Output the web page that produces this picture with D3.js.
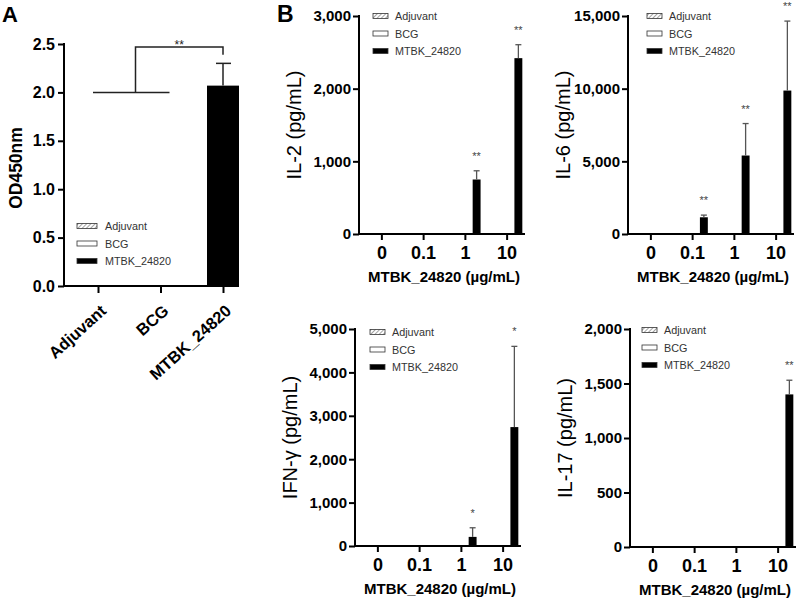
<!DOCTYPE html>
<html><head><meta charset="utf-8">
<script src="https://cdn.jsdelivr.net/npm/d3@7"></script>
<style>body{margin:0;background:#fff} text{font-family:Arial,"Liberation Sans",sans-serif}</style>
</head><body><svg id="c" width="800" height="601"></svg>
<script>
// ---------- data ----------
const seriesNames = ["Adjuvant", "BCG", "MTBK_24820"];
// Panel A
const groupsA = ["Adjuvant", "BCG", "MTBK_24820"];
const valuesA = [0, 0, 2.07];
const errorsA = [0, 0, 0.23];
const ticksA = [0, 0.5, 1.0, 1.5, 2.0, 2.5];
const bracketA = { baseline: 2.0, top: 2.47, rightEnd: 2.39, label: "**" };
// Panel B
const doses = ["0", "0.1", "1", "10"];
const il2Adjuvant = [0, 0, 0, 0];
const il2BCG = [0, 0, 0, 0];
const il2Mtbk = [0, 0, 750, 2420];
const il2Err = [0, 0, 120, 185];
const il2Sig = ["", "", "**", "**"];
const il2Ticks = [0, 1000, 2000, 3000];

const il6Adjuvant = [0, 0, 0, 0];
const il6BCG = [0, 0, 0, 0];
const il6Mtbk = [0, 1150, 5400, 9870];
const il6Err = [0, 150, 2200, 4780];
const il6Sig = ["", "**", "**", "**"];
const il6Ticks = [0, 5000, 10000, 15000];

const ifnAdjuvant = [0, 0, 0, 0];
const ifnBCG = [0, 0, 0, 0];
const ifnMtbk = [0, 0, 210, 2740];
const ifnErr = [0, 0, 210, 1860];
const ifnSig = ["", "", "*", "*"];
const ifnTicks = [0, 1000, 2000, 3000, 4000, 5000];

const il17Adjuvant = [0, 0, 0, 0];
const il17BCG = [0, 0, 0, 0];
const il17Mtbk = [0, 0, 0, 1400];
const il17Err = [0, 0, 0, 130];
const il17Sig = ["", "", "", "**"];
const il17Ticks = [0, 500, 1000, 1500, 2000];

// ---------- drawing ----------
const svg = d3.select("#c");
const defs = svg.append("defs");
const pat = defs.append("pattern").attr("id", "hatch").attr("patternUnits", "userSpaceOnUse")
  .attr("width", 3).attr("height", 3).attr("patternTransform", "rotate(45)");
pat.append("rect").attr("width", 3).attr("height", 3).attr("fill", "#fff");
pat.append("line").attr("x1", 0).attr("y1", 0).attr("x2", 0).attr("y2", 3).attr("stroke", "#666").attr("stroke-width", 1.2);
const fills = { "Adjuvant": "url(#hatch)", "BCG": "#fff", "MTBK_24820": "#000" };

function legend(g, x, y, w, gap, textX) {
  seriesNames.forEach((n, i) => {
    const yy = y + i * gap;
    g.append("rect").attr("x", x).attr("y", yy - 2.5).attr("width", w).attr("height", 5)
      .attr("fill", fills[n]).attr("stroke", "#333").attr("stroke-width", 0.8);
    g.append("text").attr("x", textX).attr("y", yy + 4).attr("font-size", 10.8).attr("fill", "#333").text(n);
  });
}

function styleAxis(sel) {
  sel.selectAll(".domain").remove();
  sel.selectAll(".tick line").attr("stroke", "#000").attr("stroke-width", 2);
  sel.selectAll(".tick text").attr("fill", "#000").attr("font-weight", "bold")
    .attr("font-family", "Arial, 'Liberation Sans', sans-serif");
}

// ----- Panel A -----
(function () {
  const g = svg.append("g");
  const ax = 64, y0 = 286, y1 = 44, xEnd = 239;
  const y = d3.scaleLinear().domain([0, 2.5]).range([y0, y1]);
  const x = d3.scalePoint().domain(groupsA).range([98, 223]);
  const bw = 32;
  groupsA.forEach((c, i) => {
    const v = valuesA[i];
    if (v > 0) {
      g.append("rect").attr("x", x(c) - bw / 2).attr("y", y(v)).attr("width", bw).attr("height", y(0) - y(v)).attr("fill", fills[c]);
      const et = y(v + errorsA[i]);
      g.append("line").attr("x1", x(c)).attr("x2", x(c)).attr("y1", y(v)).attr("y2", et).attr("stroke", "#222").attr("stroke-width", 1.5);
      g.append("line").attr("x1", x(c) - 7).attr("x2", x(c) + 8).attr("y1", et).attr("y2", et).attr("stroke", "#222").attr("stroke-width", 1.5);
    }
  });
  const bx = x(groupsA[0]) + 0.6 * (x(groupsA[1]) - x(groupsA[0]));
  g.append("line").attr("x1", x(groupsA[0]) - 5).attr("x2", x(groupsA[1]) + 9)
    .attr("y1", y(bracketA.baseline)).attr("y2", y(bracketA.baseline)).attr("stroke", "#222").attr("stroke-width", 1.5);
  g.append("path").attr("d", `M${bx},${y(bracketA.baseline)}V${y(bracketA.top)}H${x(groupsA[2])}V${y(bracketA.rightEnd)}`)
    .attr("fill", "none").attr("stroke", "#222").attr("stroke-width", 1.5);
  g.append("text").attr("x", (bx + x(groupsA[2])) / 2).attr("y", y(bracketA.top) + 2).attr("text-anchor", "middle")
    .attr("font-size", 12).attr("fill", "#222").text(bracketA.label);
  const ya = g.append("g").attr("transform", `translate(${ax},0)`)
    .call(d3.axisLeft(y).tickValues(ticksA).tickFormat(d3.format(".1f")).tickSize(6).tickPadding(3));
  styleAxis(ya);
  ya.selectAll(".tick text").attr("font-size", 16);
  const xa = g.append("g").attr("transform", `translate(0,${y0})`)
    .call(d3.axisBottom(x).tickSize(7).tickPadding(4));
  styleAxis(xa);
  xa.selectAll(".tick text").attr("font-size", 16.5).attr("text-anchor", "end")
    .attr("dy", "0.35em").attr("transform", "translate(5,22) rotate(-42)").attr("dx", 0).attr("y", 0).attr("x", 0);
  g.append("line").attr("x1", ax).attr("x2", ax).attr("y1", y0 + 1).attr("y2", y1 - 1).attr("stroke", "#000").attr("stroke-width", 2);
  g.append("line").attr("x1", ax - 1).attr("x2", xEnd).attr("y1", y0).attr("y2", y0).attr("stroke", "#000").attr("stroke-width", 2);
  g.append("text").attr("transform", `translate(22,${(y0 + y1) / 2 + 3}) rotate(-90)`).attr("text-anchor", "middle")
    .attr("font-size", 17.5).attr("font-weight", "bold").attr("fill", "#000").text("OD450nm");
  legend(g, 77, 226, 20, 17.5, 105);
  g.append("text").attr("x", 2).attr("y", 22).attr("font-size", 22).attr("font-weight", "bold").text("A");
})();

// ----- Panel B -----
svg.append("text").attr("x", 277).attr("y", 22).attr("font-size", 23).attr("font-weight", "bold").text("B");

function drawB(cfg) {
  const g = svg.append("g");
  const y = d3.scaleLinear().domain([0, cfg.ticks[cfg.ticks.length - 1]]).range([cfg.y0, cfg.y1]);
  const x = d3.scaleBand().domain(doses).range([cfg.ax + 2, cfg.ax + 169]);
  const inner = d3.scaleBand().domain(seriesNames).range([-12.5, 15.2]).paddingInner(0.2);
  const series = [cfg.adj, cfg.bcg, cfg.mtbk];
  series.forEach((vals, si) => {
    const name = seriesNames[si];
    vals.forEach((v, i) => {
      const bx = x(doses[i]) + x.bandwidth() / 2 + inner(name);
      g.append("rect").attr("x", bx).attr("y", y(v)).attr("width", inner.bandwidth())
        .attr("height", y(0) - y(v)).attr("fill", fills[name]);
    });
  });
  cfg.mtbk.forEach((v, i) => {
    const cx = x(doses[i]) + x.bandwidth() / 2 + inner("MTBK_24820") + inner.bandwidth() / 2;
    if (cfg.err[i] > 0) {
      const et = y(v + cfg.err[i]);
      g.append("line").attr("x1", cx).attr("x2", cx).attr("y1", y(v)).attr("y2", et).attr("stroke", "#555").attr("stroke-width", 1.3);
      g.append("line").attr("x1", cx - 3).attr("x2", cx + 3).attr("y1", et).attr("y2", et).attr("stroke", "#555").attr("stroke-width", 1.3);
      if (cfg.sig[i]) g.append("text").attr("x", cx).attr("y", et - 11).attr("text-anchor", "middle")
        .attr("font-size", 11).attr("fill", "#444").text(cfg.sig[i]);
    }
  });
  const ya = g.append("g").attr("transform", `translate(${cfg.ax},0)`)
    .call(d3.axisLeft(y).tickValues(cfg.ticks).tickFormat(d3.format(",")).tickSize(6).tickPadding(2));
  styleAxis(ya);
  ya.selectAll(".tick text").attr("font-size", 15);
  const xa = g.append("g").attr("transform", `translate(0,${cfg.y0})`)
    .call(d3.axisBottom(x).tickSize(6).tickPadding(6));
  styleAxis(xa);
  xa.selectAll(".tick text").attr("font-size", 18);
  const xEnd = cfg.ax + 166;
  g.append("line").attr("x1", cfg.ax).attr("x2", cfg.ax).attr("y1", cfg.y0 + 1).attr("y2", cfg.y1 - 1).attr("stroke", "#000").attr("stroke-width", 2);
  g.append("line").attr("x1", cfg.ax - 1).attr("x2", xEnd).attr("y1", cfg.y0).attr("y2", cfg.y0).attr("stroke", "#000").attr("stroke-width", 2);
  g.append("text").attr("transform", `translate(${cfg.ax - 58},${(cfg.y0 + cfg.y1) / 2}) rotate(-90)`).attr("text-anchor", "middle")
    .attr("font-size", 20).attr("fill", "#000").text(cfg.title);
  g.append("text").attr("x", cfg.ax + 85).attr("y", cfg.y0 + 48).attr("text-anchor", "middle")
    .attr("font-size", 15).attr("font-weight", "bold").attr("fill", "#000").text("MTBK_24820 (\u00b5g/mL)");
  legend(g, cfg.lx, cfg.ly, 15, 17.5, cfg.lx + 22);
}

drawB({ ax: 359, y0: 234, y1: 16, ticks: il2Ticks, adj: il2Adjuvant, bcg: il2BCG, mtbk: il2Mtbk, err: il2Err, sig: il2Sig, title: "IL-2 (pg/mL)", lx: 373, ly: 16 });
drawB({ ax: 628, y0: 234, y1: 16, ticks: il6Ticks, adj: il6Adjuvant, bcg: il6BCG, mtbk: il6Mtbk, err: il6Err, sig: il6Sig, title: "IL-6 (pg/mL)", lx: 647, ly: 16 });
drawB({ ax: 355, y0: 546, y1: 329, ticks: ifnTicks, adj: ifnAdjuvant, bcg: ifnBCG, mtbk: ifnMtbk, err: ifnErr, sig: ifnSig, title: "IFN-\u03b3 (pg/mL)", lx: 370, ly: 332 });
drawB({ ax: 630, y0: 547, y1: 329, ticks: il17Ticks, adj: il17Adjuvant, bcg: il17BCG, mtbk: il17Mtbk, err: il17Err, sig: il17Sig, title: "IL-17 (pg/mL)", lx: 642, ly: 330 });
</script></body></html>
